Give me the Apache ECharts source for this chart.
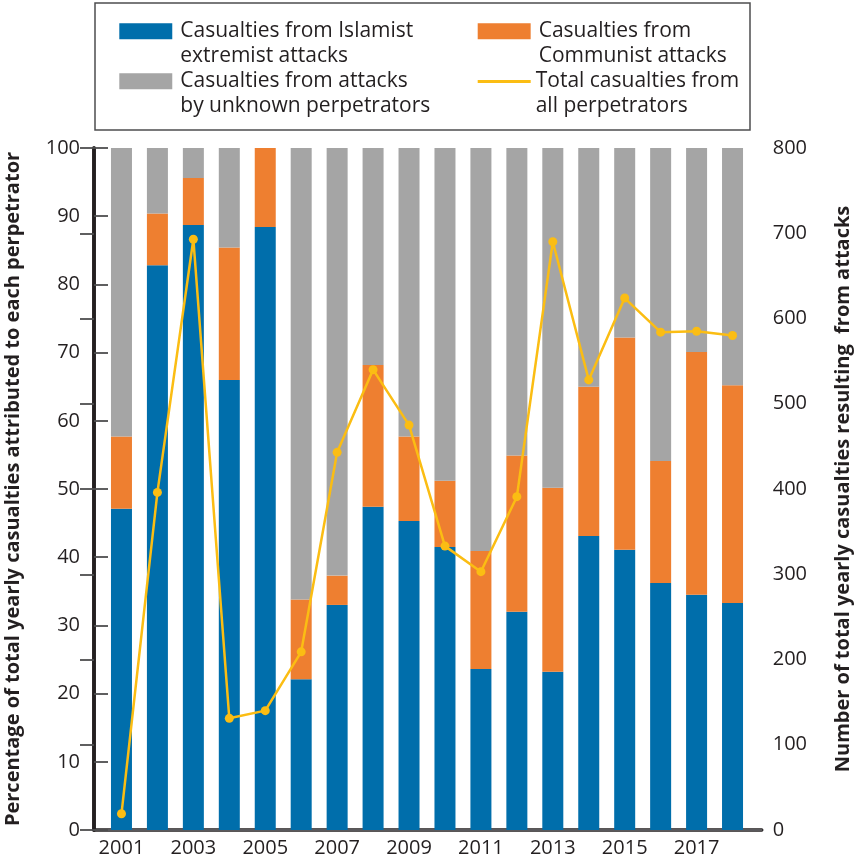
<!DOCTYPE html>
<html>
<head>
<meta charset="utf-8">
<script src="https://cdn.jsdelivr.net/npm/echarts@6/dist/echarts.min.js"></script>
<style>html,body{margin:0;padding:0;background:#fff}#c{width:855px;height:863px}</style>
</head>
<body>
<div id="c"></div>
<script>
const years = ['2001','2002','2003','2004','2005','2006','2007','2008','2009','2010','2011','2012','2013','2014','2015','2016','2017','2018'];
const islamist = [47.1,82.8,88.7,66.0,88.4,22.1,33.0,47.4,45.3,41.5,23.6,32.0,23.2,43.1,41.1,36.2,34.5,33.3];
const communist = [10.6,7.6,6.9,19.4,11.6,11.7,4.3,20.8,12.4,9.7,17.3,22.9,27.0,21.9,31.1,17.9,35.6,31.9];
const unknown = [42.3,9.6,4.4,14.6,0,66.2,62.7,31.8,42.3,48.8,59.1,45.1,49.8,35.0,27.8,45.9,29.9,34.8];
const totals = [19,396,693,131,140,209,443,540,475,333,303,391,690,528,624,584,585,580];
const names = ['Casualties from Islamist\nextremist attacks','Casualties from\nCommunist attacks','Casualties from attacks\nby unknown perpetrators','Total casualties from\nall perpetrators'];
const leftTitle = 'Percentage of total yearly casualties attributed to each perpetrator';
const rightTitle = 'Number of total yearly casualties resulting  from attacks';

const FONT = 'Open Sans';
const TXT = '#231f20';
const chart = echarts.init(document.getElementById('c'), null, {renderer:'canvas'});
const barIcon = 'path://M0,0H53V16H0Z M56,16h0.01v0.01h-0.01Z';
function legendAt(name, left, top, isLine){
  return {
    data: [{name:name, icon: isLine ? 'rect' : barIcon}],
    left:left, top:top, padding:0, orient:'vertical',
    itemWidth: isLine ? 53 : 56, itemHeight: isLine ? 3 : 16,
    selectedMode:false,
    lineStyle: isLine ? {width:3.3} : undefined,
    formatter: function(n){ return '\n' + n; },
    textStyle:{fontFamily:FONT, fontSize:21, color:TXT, lineHeight:25}
  };
}
const option = {
  animation:false,
  backgroundColor:'#fff',
  graphic:[{type:'rect', shape:{x:95,y:3,width:655,height:127}, style:{fill:'none', stroke:'#4d4d4f', lineWidth:1.5}}],
  legend:[
    legendAt(names[0],119.3,-6.2,false),
    legendAt(names[1],477.7,-6.2,false),
    legendAt(names[2],119.3,43.8,false),
    legendAt(names[3],477.7,44,true)
  ],
  grid:[
    {left:103.5, width:647, top:148, height:682, outerBoundsMode:'none', containLabel:false},
    {left:94, width:667.7, top:148, height:682, outerBoundsMode:'none', containLabel:false}
  ],
  xAxis:[
    {type:'category', gridIndex:0, data:years, boundaryGap:true,
     axisLine:{show:false}, axisTick:{show:false},
     axisLabel:{interval:1, fontFamily:FONT, fontSize:20, color:TXT, margin:8}},
    {type:'value', gridIndex:1, min:0, max:1, position:'bottom',
     axisLine:{show:true, lineStyle:{color:TXT, width:3.6}}, axisTick:{show:false}, axisLabel:{show:false}, splitLine:{show:false}},
    {type:'value', gridIndex:1, min:0, max:1, position:'top',
     axisLine:{show:true, lineStyle:{color:'#6d6e70', width:1.5}}, axisTick:{show:false}, axisLabel:{show:false}, splitLine:{show:false}}
  ],
  yAxis:[
    {type:'value', gridIndex:0, min:0, max:100, show:false},
    {type:'value', gridIndex:0, min:0, max:800, show:false},
    {type:'value', gridIndex:1, min:0, max:100, interval:10, position:'left',
     name:leftTitle, nameLocation:'middle', nameGap:71, nameRotate:90,
     nameTextStyle:{fontFamily:FONT, fontSize:20, fontWeight:'bold', color:TXT},
     axisLine:{show:true, lineStyle:{color:TXT, width:3.6}},
     axisTick:{show:true, inside:true, length:14, lineStyle:{color:'#4d4d4f', width:1.8}},
     axisLabel:{fontFamily:FONT, fontSize:20, color:TXT, margin:14},
     splitLine:{show:false}},
    {type:'value', gridIndex:1, min:0, max:800, interval:100, position:'right',
     name:rightTitle, nameLocation:'middle', nameGap:72, nameRotate:90,
     nameTextStyle:{fontFamily:FONT, fontSize:20, fontWeight:'bold', color:TXT},
     axisLine:{show:true, lineStyle:{color:TXT, width:3.6}},
     axisTick:{show:true, inside:true, length:14, lineStyle:{color:'#4d4d4f', width:1.8}},
     axisLabel:{fontFamily:FONT, fontSize:20, color:TXT, margin:11},
     splitLine:{show:false}}
  ],
  series:[
    {name:names[0], type:'bar', stack:'p', xAxisIndex:0, yAxisIndex:0, barWidth:21, data:islamist, itemStyle:{color:'#006eab'}},
    {name:names[1], type:'bar', stack:'p', xAxisIndex:0, yAxisIndex:0, barWidth:21, data:communist, itemStyle:{color:'#ee7f30'}},
    {name:names[2], type:'bar', stack:'p', xAxisIndex:0, yAxisIndex:0, barWidth:21, data:unknown, itemStyle:{color:'#a5a5a5'}},
    {name:names[3], type:'line', xAxisIndex:0, yAxisIndex:1, data:totals, symbol:'circle', symbolSize:9,
     lineStyle:{color:'#fbbd13', width:2.5}, itemStyle:{color:'#fbbd13'}, z:5}
  ]
};
chart.setOption(option);
</script>
</body>
</html>
